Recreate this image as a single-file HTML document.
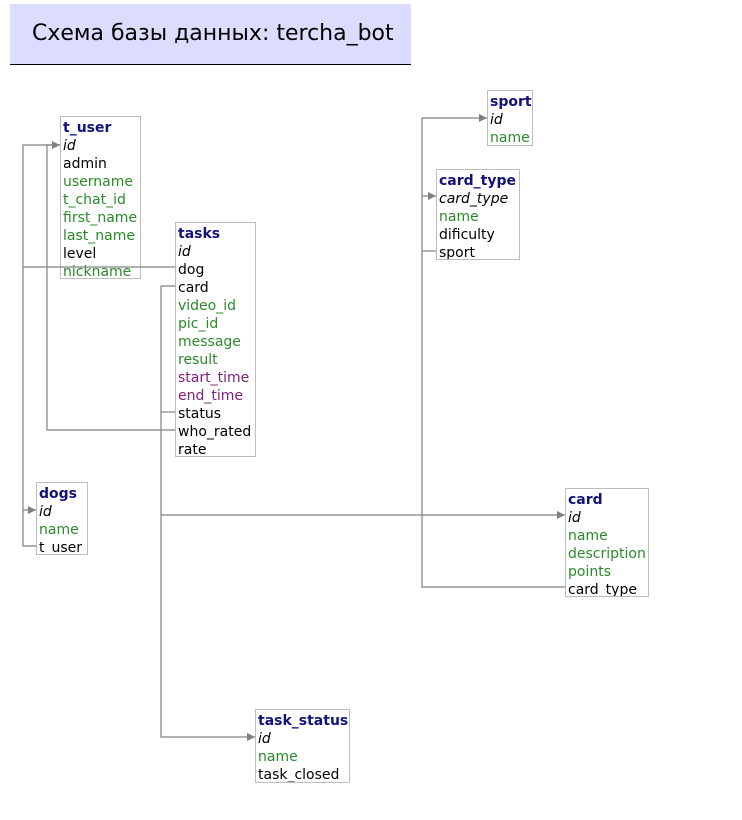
<!DOCTYPE html>
<html><head><meta charset="utf-8"><style>
body{margin:0;width:742px;height:820px;background:#fff;position:relative;overflow:hidden;font-family:"DejaVu Sans","Liberation Sans",sans-serif;}
#title{position:absolute;left:10px;top:4px;width:401px;height:60px;background:#dcdcfe;border-bottom:1px solid #000;}
#title span{position:absolute;left:22px;top:17px;font-size:22px;color:#000;}
.t{position:absolute;border:1px solid #bdbdbd;background:#fff;padding:2px 2px 0 2px;font-size:14px;line-height:18px;white-space:nowrap;overflow:hidden;}
.t b{color:#12127a;display:block;height:18px;}
.t div{height:18px;}
.k{font-style:italic;color:#000;}
.g{color:#2a8a2a;}
.p{color:#80207f;}
svg{position:absolute;left:0;top:0;z-index:2;}
</style></head><body>
<div id="title"><span>Схема базы данных: tercha_bot</span></div>
<div class="t" style="left:60px;top:116px;width:75px;height:159px"><b>t_user</b><div class="k">id</div><div>admin</div><div class="g">username</div><div class="g">t_chat_id</div><div class="g">first_name</div><div class="g">last_name</div><div>level</div><div class="g">nickname</div></div>
<div class="t" style="left:175px;top:222px;width:75px;height:231px"><b>tasks</b><div class="k">id</div><div>dog</div><div>card</div><div class="g">video_id</div><div class="g">pic_id</div><div class="g">message</div><div class="g">result</div><div class="p">start_time</div><div class="p">end_time</div><div>status</div><div>who_rated</div><div>rate</div></div>
<div class="t" style="left:36px;top:482px;width:46px;height:69px"><b>dogs</b><div class="k">id</div><div class="g">name</div><div>t_user</div></div>
<div class="t" style="left:487px;top:90px;width:40px;height:52px"><b>sport</b><div class="k">id</div><div class="g">name</div></div>
<div class="t" style="left:436px;top:169px;width:78px;height:87px"><b>card_type</b><div class="k">card_type</div><div class="g">name</div><div>dificulty</div><div>sport</div></div>
<div class="t" style="left:565px;top:488px;width:78px;height:105px"><b>card</b><div class="k">id</div><div class="g">name</div><div class="g">description</div><div class="g">points</div><div>card_type</div></div>
<div class="t" style="left:255px;top:709px;width:89px;height:70px"><b>task_status</b><div class="k">id</div><div class="g">name</div><div>task_closed</div></div>
<svg width="742" height="820">
<g stroke="#808080" stroke-width="1.2" fill="none">
<path d="M60 145H23V546H36"/>
<path d="M23 267H175"/>
<path d="M23 510H36"/>
<path d="M60 145H47V430H175"/>
<path d="M175 286H161V737H255"/>
<path d="M161 412H175"/>
<path d="M161 515H565"/>
<path d="M487 118H422V587H565"/>
<path d="M422 196H436"/>
<path d="M422 251H436"/>
</g>
<g fill="#808080">
<path d="M60 145l-8-4v8z"/>
<path d="M36 510l-8-4v8z"/>
<path d="M565 515l-8-4v8z"/>
<path d="M255 737l-8-4v8z"/>
<path d="M487 118l-8-4v8z"/>
<path d="M436 196l-8-4v8z"/>
</g>
</svg>
</body></html>
